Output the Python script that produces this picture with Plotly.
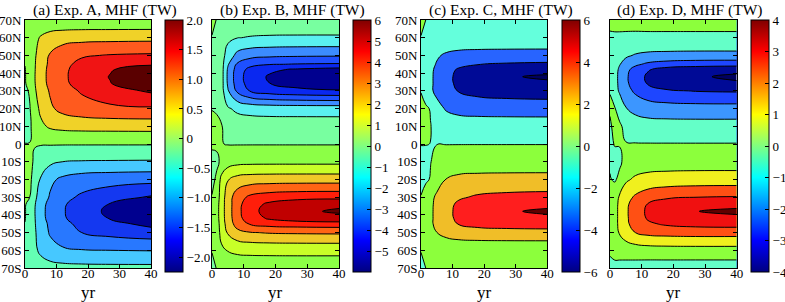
import plotly.graph_objects as go

# ---------------- data ----------------
years = [0, 1.5, 3, 5, 8, 12, 18, 27, 40]
lats = [-70, -60, -50, -45, -42, -38, -34, -30, -20, -10, 0,
        10, 20, 30, 34, 38, 42, 45, 50, 60, 70]

# rows: latitude (south -> north, as in `lats`); columns: years
mhf_a = [
    [-0.01, -0.05, -0.12, -0.22, -0.30, -0.34, -0.36, -0.37, -0.37],
    [-0.01, -0.15, -0.38, -0.62, -0.82, -0.93, -0.98, -1.00, -1.02],
    [-0.01, -0.20, -0.42, -0.75, -1.05, -1.30, -1.50, -1.65, -1.775],
    [-0.01, -0.20, -0.45, -0.78, -1.10, -1.38, -1.62, -1.85, -2.15],
    [0.02, -0.20, -0.46, -0.81, -1.18, -1.43, -1.77, -2.02, -2.56],
    [0.03, -0.20, -0.47, -0.82, -1.20, -1.45, -1.82, -2.08, -2.70],
    [0.04, -0.16, -0.45, -0.80, -1.17, -1.43, -1.77, -2.02, -2.57],
    [0.10, 0.00, -0.38, -0.72, -1.05, -1.35, -1.58, -1.80, -2.05],
    [0.15, 0.08, -0.15, -0.55, -0.90, -1.10, -1.24, -1.30, -1.34],
    [0.10, 0.06, -0.03, -0.22, -0.40, -0.50, -0.53, -0.54, -0.55],
    [0.005, 0.005, 0.01, 0.02, 0.03, 0.03, 0.03, 0.03, 0.03],
    [-0.10, -0.05, 0.12, 0.40, 0.57, 0.64, 0.67, 0.68, 0.69],
    [-0.12, -0.03, 0.30, 0.60, 0.92, 1.15, 1.30, 1.40, 1.44],
    [-0.10, 0.05, 0.42, 0.75, 1.05, 1.30, 1.55, 1.80, 2.07],
    [-0.04, 0.17, 0.46, 0.79, 1.13, 1.40, 1.67, 1.98, 2.37],
    [-0.03, 0.20, 0.47, 0.80, 1.15, 1.42, 1.70, 2.02, 2.45],
    [-0.02, 0.20, 0.46, 0.79, 1.14, 1.41, 1.68, 1.96, 2.32],
    [0.01, 0.20, 0.45, 0.78, 1.10, 1.38, 1.62, 1.80, 1.93],
    [0.01, 0.20, 0.42, 0.75, 1.05, 1.30, 1.45, 1.53, 1.57],
    [0.01, 0.15, 0.35, 0.55, 0.72, 0.80, 0.84, 0.85, 0.86],
    [0.01, 0.03, 0.06, 0.08, 0.09, 0.09, 0.09, 0.09, 0.09],
]
mhf_b = [
    [-0.30, 0.05, 0.25, 0.38, 0.43, 0.45, 0.45, 0.45, 0.45],
    [0.05, 0.30, 0.80, 1.05, 1.18, 1.22, 1.24, 1.25, 1.25],
    [0.05, 0.45, 1.35, 2.10, 2.70, 2.95, 3.07, 3.12, 3.15],
    [0.05, 0.50, 1.50, 2.40, 3.45, 4.10, 4.40, 4.53, 4.60],
    [0.05, 0.58, 1.58, 2.48, 3.64, 4.55, 5.11, 5.52, 5.75],
    [0.05, 0.60, 1.60, 2.50, 3.70, 4.70, 5.35, 5.85, 6.10],
    [0.05, 0.57, 1.58, 2.50, 3.67, 4.60, 5.18, 5.61, 5.85],
    [0.05, 0.45, 1.50, 2.50, 3.55, 4.20, 4.50, 4.65, 4.70],
    [-0.30, 0.20, 1.30, 1.95, 2.35, 2.48, 2.53, 2.55, 2.55],
    [-0.40, -0.20, 0.20, 0.55, 0.70, 0.74, 0.75, 0.75, 0.75],
    [0.20, 0.15, 0.02, -0.03, -0.04, -0.04, -0.04, -0.04, -0.04],
    [0.40, 0.30, 0.05, -0.30, -0.45, -0.49, -0.50, -0.50, -0.50],
    [-0.05, -0.15, -0.40, -0.90, -1.20, -1.33, -1.40, -1.42, -1.43],
    [-0.05, -0.20, -0.60, -1.90, -3.20, -4.05, -4.50, -4.75, -4.90],
    [-0.05, -0.20, -0.60, -2.14, -3.48, -4.41, -4.98, -5.35, -5.66],
    [-0.05, -0.20, -0.60, -2.20, -3.55, -4.50, -5.10, -5.50, -5.85],
    [-0.05, -0.20, -0.60, -2.13, -3.45, -4.30, -4.81, -5.14, -5.41],
    [-0.05, -0.20, -0.60, -1.90, -3.15, -3.70, -3.95, -4.05, -4.10],
    [-0.05, -0.20, -0.60, -1.40, -2.30, -2.65, -2.80, -2.87, -2.90],
    [-0.05, -0.15, -0.45, -0.80, -0.98, -1.04, -1.07, -1.08, -1.08],
    [0.30, -0.05, -0.30, -0.45, -0.52, -0.54, -0.55, -0.55, -0.55],
]
mhf_c = [
    [-0.15, 0.00, 0.04, 0.06, 0.08, 0.09, 0.10, 0.10, 0.10],
    [0.02, 0.10, 0.20, 0.30, 0.40, 0.46, 0.49, 0.50, 0.50],
    [0.02, 0.66, 1.32, 1.98, 2.64, 3.04, 3.20, 3.27, 3.30],
    [0.02, 0.85, 1.65, 2.50, 3.40, 4.10, 4.60, 4.85, 5.00],
    [0.02, 0.88, 1.65, 2.51, 3.48, 4.36, 5.15, 5.65, 5.84],
    [0.02, 0.89, 1.65, 2.51, 3.51, 4.44, 5.33, 5.92, 6.12],
    [0.03, 0.87, 1.62, 2.47, 3.43, 4.31, 5.11, 5.63, 5.82],
    [0.05, 0.78, 1.52, 2.30, 3.13, 3.77, 4.23, 4.46, 4.60],
    [-0.40, -0.25, 0.10, 1.20, 2.05, 2.48, 2.62, 2.68, 2.70],
    [-0.50, -0.35, -0.05, 0.42, 0.68, 0.79, 0.83, 0.84, 0.85],
    [0.05, 0.03, -0.01, -0.02, -0.03, -0.03, -0.03, -0.03, -0.03],
    [0.50, 0.35, 0.05, -0.50, -0.80, -0.93, -0.98, -0.99, -1.00],
    [0.40, 0.25, -0.10, -1.30, -2.20, -2.65, -2.80, -2.87, -2.90],
    [-0.05, -0.85, -1.65, -2.50, -3.40, -4.10, -4.60, -4.85, -5.00],
    [-0.03, -0.88, -1.65, -2.51, -3.49, -4.37, -5.18, -5.65, -5.85],
    [-0.02, -0.89, -1.65, -2.51, -3.51, -4.44, -5.33, -5.92, -6.12],
    [-0.02, -0.85, -1.59, -2.42, -3.36, -4.21, -4.99, -5.51, -5.70],
    [-0.02, -0.73, -1.42, -2.15, -2.92, -3.53, -3.96, -4.17, -4.30],
    [-0.02, -0.58, -1.16, -1.74, -2.32, -2.67, -2.81, -2.87, -2.90],
    [-0.02, -0.08, -0.16, -0.24, -0.32, -0.37, -0.39, -0.40, -0.40],
    [0.15, 0.00, -0.04, -0.06, -0.08, -0.09, -0.10, -0.10, -0.10],
]
mhf_d = [
    [-0.10, -0.12, -0.22, -0.32, -0.41, -0.47, -0.49, -0.50, -0.50],
    [0.05, 0.15, 0.27, 0.39, 0.50, 0.56, 0.59, 0.60, 0.60],
    [0.02, 0.60, 1.08, 1.56, 2.00, 2.26, 2.35, 2.40, 2.40],
    [0.02, 0.65, 1.22, 1.80, 2.38, 2.86, 3.16, 3.33, 3.40],
    [0.02, 0.66, 1.22, 1.82, 2.49, 3.09, 3.58, 3.80, 3.88],
    [0.02, 0.66, 1.22, 1.83, 2.53, 3.17, 3.72, 3.99, 4.10],
    [0.02, 0.64, 1.20, 1.79, 2.45, 3.05, 3.54, 3.76, 3.85],
    [0.02, 0.58, 1.10, 1.62, 2.14, 2.56, 2.84, 2.99, 3.05],
    [0.05, -0.10, 0.20, 0.85, 1.15, 1.32, 1.40, 1.44, 1.45],
    [-0.10, -0.30, -0.15, 0.25, 0.45, 0.52, 0.54, 0.55, 0.55],
    [-0.20, 0.05, 0.03, 0.03, 0.03, 0.03, 0.03, 0.03, 0.03],
    [-0.10, 0.20, 0.12, -0.20, -0.45, -0.56, -0.59, -0.60, -0.60],
    [0.08, 0.05, -0.30, -0.95, -1.30, -1.50, -1.57, -1.60, -1.60],
    [-0.02, -0.59, -1.12, -1.64, -2.17, -2.60, -2.88, -3.04, -3.10],
    [-0.02, -0.65, -1.20, -1.79, -2.46, -3.06, -3.55, -3.78, -3.90],
    [-0.02, -0.66, -1.22, -1.83, -2.53, -3.17, -3.72, -3.92, -4.12],
    [-0.02, -0.62, -1.15, -1.72, -2.35, -2.92, -3.40, -3.62, -3.80],
    [-0.02, -0.49, -0.94, -1.38, -1.82, -2.18, -2.42, -2.55, -2.60],
    [-0.02, -0.33, -0.59, -0.85, -1.08, -1.22, -1.27, -1.30, -1.30],
    [-0.03, -0.05, -0.06, -0.07, -0.08, -0.08, -0.08, -0.08, -0.08],
    [0.05, 0.10, 0.12, 0.13, 0.14, 0.15, 0.15, 0.15, 0.15],
]

titles = ["(a) Exp. A, MHF (TW)", "(b) Exp. B, MHF (TW)",
          "(c) Exp. C, MHF (TW)", "(d) Exp. D, MHF (TW)"]
lat_ticks = [-70, -60, -50, -40, -30, -20, -10, 0, 10, 20, 30, 40, 50, 60, 70]
lat_labels = ["70S", "60S", "50S", "40S", "30S", "20S", "10S", "0",
              "10N", "20N", "30N", "40N", "50N", "60N", "70N"]
year_ticks = [0, 10, 20, 30, 40]

cbar_ranges = [(-2.25, 2.0), (-6.0, 6.0), (-6.0, 6.0), (-4.0, 4.0)]
cbar_ticks = [
    ([2.0, 1.5, 1.0, 0.5, 0, -0.5, -1.0, -1.5, -2.0],
     ["2.0", "1.5", "1.0", "0.5", "0", "\u22120.5", "\u22121.0", "\u22121.5", "\u22122.0"]),
    ([6, 5, 4, 3, 2, 1, 0, -1, -2, -3, -4, -5],
     ["6", "5", "4", "3", "2", "1", "0", "\u22121", "\u22122", "\u22123", "\u22124", "\u22125"]),
    ([6, 4, 2, 0, -2, -4, -6], ["6", "4", "2", "0", "\u22122", "\u22124", "\u22126"]),
    ([4, 3, 2, 1, 0, -1, -2, -3, -4],
     ["4", "3", "2", "1", "0", "\u22121", "\u22122", "\u22123", "\u22124"]),
]
# contour levels (start, end, step)
levels = [(-2.0, 2.0, 0.5), (-6.0, 6.0, 1.0), (-6.0, 6.0, 2.0), (-4.0, 4.0, 1.0)]

# ---------------- style ----------------
band_colors = [
    ["#00008f", "#1438f0", "#2878ff", "#46c8ff", "#64ffb4", "#8cff46",
     "#f0d228", "#ff5a1e", "#f01414", "#5a0000"],
    ["#000080", "#00008f", "#0a28f0", "#1e50ff", "#3c8cff", "#5af0f0", "#78ffa0",
     "#8cff46", "#c8ff28", "#f0c828", "#ff6414", "#ff1e0a", "#c00000", "#600000"],
    ["#000060", "#000a96", "#2864ff", "#64ffdc", "#8cff3c", "#f0be28", "#ff1e1e", "#600000"],
    ["#000060", "#000a96", "#1e46ff", "#3c96ff", "#64ffc8", "#8cff3c",
     "#f0f01e", "#ff5014", "#f01010", "#600000"],
]
jet = [[0.0, "rgb(0,0,128)"], [0.125, "rgb(0,0,255)"], [0.375, "rgb(0,255,255)"],
       [0.625, "rgb(255,255,0)"], [0.875, "rgb(255,0,0)"], [1.0, "rgb(128,0,0)"]]

W, H = 785, 302
plot_px = [(25, 151), (212, 339), (421, 547.3), (610, 736.7)]
cbar_px = [165, 353, 562, 751]
y_top, y_bot = 20, 268
FONT = "Liberation Serif"
TICK_FONT = dict(family=FONT, size=13, color="black")

fig = go.Figure()
datasets = [mhf_a, mhf_b, mhf_c, mhf_d]

for i in range(4):
    ax = "" if i == 0 else str(i + 1)
    s, e, st = levels[i]
    cols = band_colors[i]
    nb = len(cols)
    cscale = [[j / (nb - 1), c] for j, c in enumerate(cols)]
    fig.add_trace(go.Contour(
        x=years, y=lats, z=datasets[i],
        contours=dict(start=s, end=e, size=st, coloring="fill", showlines=True),
        line=dict(color="black", width=1, smoothing=1.3),
        colorscale=cscale, showscale=False, hoverinfo="skip",
        xaxis="x" + ax, yaxis="y" + ax,
    ))
    cmin, cmax = cbar_ranges[i]
    tv, tt = cbar_ticks[i]
    fig.add_trace(go.Scatter(
        x=[-100], y=[-100], mode="markers", hoverinfo="skip", showlegend=False,
        marker=dict(size=1, opacity=0, color=[cmin], cmin=cmin, cmax=cmax,
                    colorscale=jet, showscale=True,
                    colorbar=dict(
                        x=cbar_px[i] / W, xanchor="left", xpad=0, ypad=0,
                        y=(H - 146) / H, yanchor="middle",
                        lenmode="pixels", len=252, thicknessmode="pixels", thickness=18,
                        outlinecolor="black", outlinewidth=1,
                        ticks="inside", ticklen=4, tickcolor="black",
                        tickvals=tv, ticktext=tt, tickfont=TICK_FONT,
                    )),
        xaxis="x" + ax, yaxis="y" + ax,
    ))

    x0, x1 = plot_px[i]
    axis_common = dict(showline=True, linecolor="black", linewidth=1, mirror="allticks",
                       ticks="inside", ticklen=4, tickcolor="black", showgrid=False,
                       zeroline=False, tickfont=TICK_FONT)
    fig.layout["xaxis" + ax] = dict(
        domain=[x0 / W, x1 / W], range=[0, 40], tickvals=year_ticks,
        anchor="y" + ax, ticklabelstandoff=-7, **axis_common)
    fig.layout["yaxis" + ax] = dict(
        domain=[(H - y_bot) / H, (H - y_top) / H], range=[-70, 70],
        tickvals=lat_ticks, ticktext=lat_labels, showticklabels=(i in (0, 2)),
        anchor="x" + ax, ticklabelstandoff=0, **axis_common)

    cx = (x0 + cbar_px[i] + 19) / 2
    fig.add_annotation(text=titles[i], x=cx / W, y=(H - 10) / H, xref="paper", yref="paper",
                       showarrow=False, xanchor="center", yanchor="middle",
                       font=dict(family=FONT, size=15.5, color="black"))
    fig.add_annotation(text="yr", x=((x0 + x1) / 2) / W, y=(H - 292) / H,
                       xref="paper", yref="paper", showarrow=False,
                       xanchor="center", yanchor="middle",
                       font=dict(family=FONT, size=17, color="black"))

fig.update_layout(width=W, height=H, margin=dict(l=0, r=0, t=0, b=0, autoexpand=False),
                  paper_bgcolor="white", plot_bgcolor="white", showlegend=False)
fig.write_html("out.html", config={"displayModeBar": False},
               post_script="document.body.style.margin='0';document.body.style.overflow='hidden';")
